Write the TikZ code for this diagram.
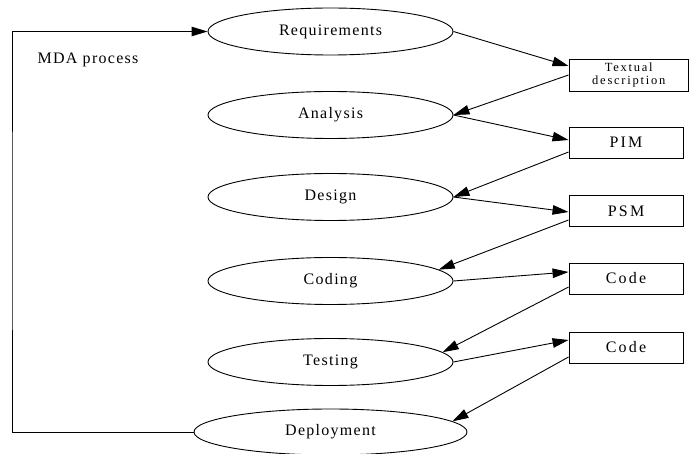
\documentclass[tikz,border=0pt]{standalone}
\usepackage{fontspec}
\setmainfont{Liberation Serif}
\newfontfamily\labfont[LetterSpace=8]{Liberation Serif}
\newfontfamily\boxfont[LetterSpace=14]{Liberation Serif}
\usetikzlibrary{shapes.geometric,arrows.meta}
\begin{document}
\begin{tikzpicture}[x=1pt,y=-1pt,
  phase/.style={draw, ellipse, line width=0.9pt, inner sep=0pt,
    minimum width=245pt, minimum height=47pt,
    font=\labfont\fontsize{16}{19}\selectfont},
  artefact/.style={draw, rectangle, line width=0.9pt, inner sep=0pt,
    minimum width=114pt, minimum height=31pt,
    font=\boxfont\fontsize{16}{19}\selectfont},
  arr/.style={line width=0.9pt, -{Triangle[length=16pt,width=9.5pt]}}]
\useasboundingbox (0,0) rectangle (689,454);
\fill[white] (0,0) rectangle (689,454);

% process phases
\node[phase] (req) at (330.5,31.5) {Requirements};
\node[phase] (ana) at (330.5,115) {Analysis};
\node[phase] (des) at (330.5,197) {Design};
\node[phase] (cod) at (330.5,281) {Coding};
\node[phase] (tes) at (330.5,362) {Testing};
\node[phase, minimum width=273pt, minimum height=46pt] (dep) at (330.5,432) {Deployment};

% artefacts produced by the phases
\node[artefact, minimum width=119.5pt, minimum height=32pt,
  font=\boxfont\fontsize{12.5}{12.5}\selectfont, align=center] (td) at (628.75,75) {Textual\\description};
\node[artefact] (pim) at (626,142.5) {PIM};
\node[artefact] (psm) at (626,211) {PSM};
\node[artefact] (code1) at (626,278.5) {Code};
\node[artefact] (code2) at (626,347.5) {Code};

\node[font=\labfont\fontsize{16}{19}\selectfont] (mda) at (88,60) {MDA process};

% phase to artefact and back
\draw[arr] (req.east) -- ([yshift=9pt]td.west);
\draw[arr] (td.west) -- (ana.east);
\draw[arr] (ana.east) -- ([yshift=2.5pt]pim.west);
\draw[arr] ([yshift=-9.5pt]pim.west) -- (des.east);
\draw[arr] (des.east) -- ([yshift=-1pt]psm.west);
\draw[arr] ([yshift=-9pt]psm.west) -- (cod.6);
\draw[arr] (cod.east) -- ([yshift=6.5pt]code1.west);
\draw[arr] ([yshift=-8.5pt]code1.west) -- (tes.5);
\draw[arr] (tes.east) -- ([yshift=7.5pt]code2.west);
\draw[arr] ([yshift=-9.5pt]code2.west) -- (dep.5);

% feedback loop from deployment back to requirements
\coordinate (loop) at (12,230);
\draw[arr] (dep.west) -| (loop) |- (req.west);
\end{tikzpicture}
\end{document}
